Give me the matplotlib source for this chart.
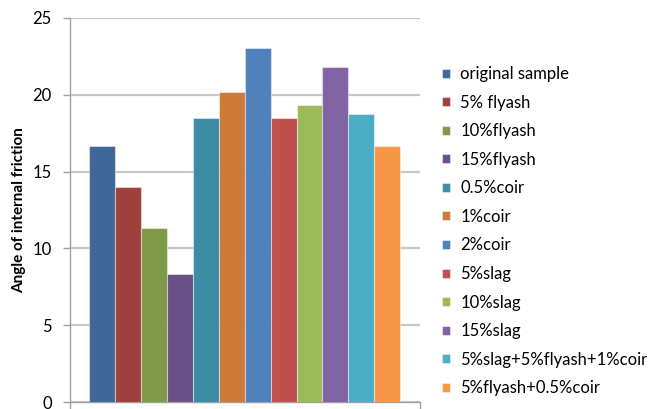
import numpy as np
import matplotlib
matplotlib.use("Agg")
import matplotlib.pyplot as plt

plt.rcParams['font.family'] = ['Lato', 'DejaVu Sans']

# angle of internal friction for each mix
samples = ["original sample", "5% flyash", "10%flyash", "15%flyash", "0.5%coir",
           "1%coir", "2%coir", "5%slag", "10%slag", "15%slag",
           "5%slag+5%flyash+1%coir", "5%flyash+0.5%coir"]
angles = [16.67, 14.0, 11.3, 8.33, 18.45, 20.16, 23.02, 18.45, 19.3, 21.77, 18.77, 16.67]
colors = ["#3F6797", "#9E413E", "#7F9A48", "#695185", "#3C8DA3", "#CC7B38",
          "#4F81BD", "#C0504D", "#9BBB59", "#8064A2", "#4BACC6", "#F79646"]
yticks = [0, 5, 10, 15, 20, 25]

fig = plt.figure(figsize=(6.48, 4.09), dpi=100)
ax = fig.add_axes([0.108, 0.0164, 0.5394, 0.9403])

n = len(angles)
gap = 1.5
w = 1.0 / (n + gap)
start = -0.5 + gap * w / 2
for i, (lab, v, c) in enumerate(zip(samples, angles, colors)):
    ax.bar(start + (i + 0.5) * w, v, width=w, color=c, label=lab,
           edgecolor=(1, 1, 1, 0.45), linewidth=0.8, zorder=3)

ax.set_xlim(-0.5, 0.5)
ax.set_ylim(0, 25)
ax.set_yticks(yticks)
ax.set_xticks([-0.5, 0.5])
ax.set_xticklabels([])
ax.yaxis.grid(True, color="#C8C8C8", linewidth=1.6, zorder=0)
ax.set_axisbelow(True)

for s in ["top", "right"]:
    ax.spines[s].set_visible(False)
for s in ["left", "bottom"]:
    ax.spines[s].set_color("#A0A0A0")
    ax.spines[s].set_linewidth(1.0)
ax.tick_params(axis="y", length=5, width=1.0, color="#A0A0A0", pad=8, labelsize=12, labelcolor="#000000")
ax.tick_params(axis="x", length=5, width=1.0, color="#A0A0A0")
ax.set_ylabel("Angle of internal friction", fontsize=11, fontweight="bold", labelpad=5, color="#000000")

ax.legend(loc="upper left", bbox_to_anchor=(0.672, 0.855), bbox_transform=fig.transFigure,
          frameon=False, fontsize=12, handlelength=0.45, handleheight=0.45,
          handletextpad=0.65, labelspacing=0.755, borderaxespad=0, labelcolor="#000000")

fig.savefig("out.png", dpi=100)
